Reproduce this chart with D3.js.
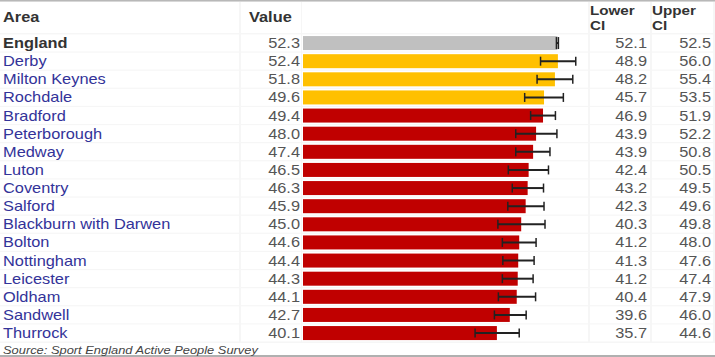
<!DOCTYPE html>
<html><head><meta charset="utf-8">
<script src="https://cdn.jsdelivr.net/npm/d3@7"></script>
<style>
html,body{margin:0;padding:0;background:#fff;}
svg text{font-family:"Liberation Sans",Arial,sans-serif;}
</style></head>
<body><svg id="c" width="715" height="357"></svg>
<script>
const areas = ["England","Derby","Milton Keynes","Rochdale","Bradford","Peterborough","Medway","Luton","Coventry","Salford","Blackburn with Darwen","Bolton","Nottingham","Leicester","Oldham","Sandwell","Thurrock"];
const values = [52.3,52.4,51.8,49.6,49.4,48.0,47.4,46.5,46.3,45.9,45.0,44.6,44.4,44.3,44.1,42.7,40.1];
const lowerCI = [52.1,48.9,48.2,45.7,46.9,43.9,43.9,42.4,43.2,42.3,40.3,41.2,41.3,41.2,40.4,39.6,35.7];
const upperCI = [52.5,56.0,55.4,53.5,51.9,52.2,50.8,50.5,49.5,49.6,49.8,48.0,47.6,47.4,47.9,46.0,44.6];
const groups = ["england","similar","similar","similar","worse","worse","worse","worse","worse","worse","worse","worse","worse","worse","worse","worse","worse"];
const headers = ["Area","Value","Lower CI","Upper CI"];
const source = "Source: Sport England Active People Survey";

const colour = d3.scaleOrdinal().domain(["england","similar","worse"]).range(["#c0c0c0","#ffc000","#c00000"]);
const svg = d3.select("#c");
const SX = 1.17;
const rowTop = 34, pitch = 18.125;
const y = d3.scaleBand().domain(areas).range([rowTop, rowTop + pitch*areas.length]).paddingInner(0);
const x = d3.scaleLinear().domain([0,57]).range([298, 298+57*4.96]);
const barStart = 303;

function txt(g, s, px, py, opts){
  const t = g.append("text").attr("transform",`translate(${px},${py}) scale(${SX},1)`).text(s)
    .attr("font-size", opts.size||14).attr("fill", opts.fill||"#555")
    .attr("text-anchor", opts.anchor||"start");
  if(opts.bold) t.attr("font-weight","bold");
  if(opts.italic) t.attr("font-style","italic");
  return t;
}

// background grid
svg.append("rect").attr("x",0).attr("y",0).attr("width",715).attr("height",343).attr("fill","#f6f6f6");
const cols = [[0,239],[241,301],[302,588],[590,650],[652,713]];
cols.forEach(c=>svg.append("rect").attr("x",c[0]).attr("y",2).attr("width",c[1]-c[0]).attr("height",rowTop-3).attr("fill","#fff"));
areas.forEach(a=>{
  cols.forEach(c=>svg.append("rect").attr("x",c[0]).attr("y",y(a)+0.5).attr("width",c[1]-c[0]).attr("height",pitch-1.2).attr("fill","#fff"));
});
svg.append("rect").attr("x",0).attr("y",0).attr("width",715).attr("height",1.5).attr("fill","#b8b8b8");
svg.append("rect").attr("x",0).attr("y",343).attr("width",715).attr("height",14).attr("fill","#fff");
svg.append("rect").attr("x",0).attr("y",355).attr("width",715).attr("height",2).attr("fill","#b0b0b0");

// headers
txt(svg, headers[0], 3, 22, {bold:true, fill:"#333"});
txt(svg, headers[1], 249, 22, {bold:true, fill:"#333"});
const lc = headers[2].split(" "), uc = headers[3].split(" ");
txt(svg, lc[0], 590, 15, {bold:true, fill:"#333", size:13});
txt(svg, lc[1], 590, 30, {bold:true, fill:"#333", size:13});
txt(svg, uc[0], 652, 15, {bold:true, fill:"#333", size:13});
txt(svg, uc[1], 652, 30, {bold:true, fill:"#333", size:13});

const rows = svg.append("g");
areas.forEach((a,i)=>{
  const cy = y(a) + pitch/2;
  const eng = i===0;
  txt(rows, a, 3, cy+5, {bold:eng, fill: eng?"#333":"#333399"});
  txt(rows, values[i].toFixed(1), 300, cy+5, {anchor:"end"});
  txt(rows, lowerCI[i].toFixed(1), 647, cy+5, {anchor:"end"});
  txt(rows, upperCI[i].toFixed(1), 711, cy+5, {anchor:"end"});
  rows.append("rect").attr("x",barStart).attr("y",cy-7).attr("width",x(values[i])-barStart).attr("height",14)
    .attr("fill",colour(groups[i]));
  const eb = rows.append("g").attr("stroke","#222").attr("stroke-width",2);
  eb.append("line").attr("x1",x(lowerCI[i])).attr("x2",x(upperCI[i])).attr("y1",cy).attr("y2",cy);
  const ch = eng ? 6 : 4.5;
  eb.append("line").attr("x1",x(lowerCI[i])).attr("x2",x(lowerCI[i])).attr("y1",cy-ch).attr("y2",cy+ch).attr("stroke-width",1.5);
  eb.append("line").attr("x1",x(upperCI[i])).attr("x2",x(upperCI[i])).attr("y1",cy-ch).attr("y2",cy+ch).attr("stroke-width",1.5);
});

txt(svg, source, 3, 354, {italic:true, size:11, fill:"#444"});
</script></body></html>
